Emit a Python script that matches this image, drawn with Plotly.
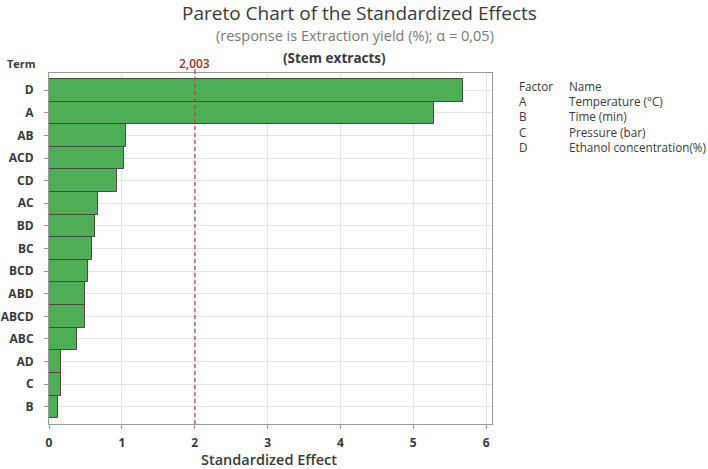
import plotly.graph_objects as go

terms = ["D", "A", "AB", "ACD", "CD", "AC", "BD", "BC", "BCD", "ABD", "ABCD", "ABC", "AD", "C", "B"]
effects = [5.68, 5.29, 1.06, 1.03, 0.93, 0.67, 0.63, 0.59, 0.53, 0.49, 0.50, 0.38, 0.17, 0.17, 0.12]
critical = 2.003
x_ticks = [0, 1, 2, 3, 4, 5, 6]
factors = ["A", "B", "C", "D"]
factor_names = ["Temperature (°C)", "Time (min)", "Pressure (bar)", "Ethanol concentration(%)"]

FONT = "Open Sans"
DARK = "#3a3a3a"
W, H = 708, 469
L, R, T, B = 49, 216, 73, 45
PW, PH = W - L - R, H - T - B


def px(xp):
    return (xp - L) / PW


def py(yp):
    return 1 - (yp - T) / PH


fig = go.Figure()
fig.add_trace(go.Bar(
    x=effects, y=terms, orientation="h",
    marker=dict(color="#4dae55", line=dict(color="#4a4a4a", width=1)),
    width=1.0, showlegend=False, hoverinfo="x+y",
))

n = len(terms)
pad = 0.26
fig.update_layout(
    width=W, height=H,
    margin=dict(l=L, r=R, t=T, b=B),
    paper_bgcolor="white", plot_bgcolor="white",
    font=dict(family=FONT, color=DARK),
    bargap=0,
    xaxis=dict(range=[0, 6.08], tickvals=x_ticks, showgrid=True, gridcolor="#e4e4e4",
               zeroline=False, showline=True, linecolor="#9a9a9a", mirror=True, automargin=False,
               ticks="outside", ticklen=4, tickcolor="#9a9a9a", ticklabelstandoff=4,
               tickfont=dict(size=12, color=DARK, family=FONT, weight="bold")),
    yaxis=dict(type="category", categoryorder="array", categoryarray=terms,
               range=[n - 0.5 + pad, -0.5 - pad], showgrid=True, gridcolor="#e4e4e4",
               zeroline=False, showline=True, linecolor="#9a9a9a", mirror=True, automargin=False,
               ticks="outside", ticklen=4, tickcolor="#9a9a9a", ticklabelstandoff=8,
               tickfont=dict(size=12, color=DARK, family=FONT, weight="bold")),
)

# reference line
fig.add_shape(type="line", xref="x", yref="paper", x0=critical, x1=critical, y0=0, y1=1,
              line=dict(color="#d0343a", width=1.2, dash="4px,3px"))
fig.add_shape(type="line", xref="x", yref="paper", x0=critical, x1=critical, y0=1, y1=py(69),
              line=dict(color="#d0343a", width=1.2))
fig.add_annotation(x=critical, y=py(63.5), xref="x", yref="paper", text="2,003", showarrow=False,
                   yanchor="middle", font=dict(size=12, color="#b5262b", family=FONT, weight=600))

# titles
fig.add_annotation(xref="paper", yref="paper", x=px(359), y=py(12.5),
                   text="Pareto Chart of the Standardized Effects", showarrow=False,
                   xanchor="center", yanchor="middle", font=dict(size=19, color=DARK, family=FONT))
fig.add_annotation(xref="paper", yref="paper", x=px(355), y=py(35.5),
                   text="(response is Extraction yield (%); α = 0,05)", showarrow=False,
                   xanchor="center", yanchor="middle", font=dict(size=14.5, color="#7a7a7a", family=FONT))
fig.add_annotation(xref="paper", yref="paper", x=px(334), y=py(58),
                   text="(Stem extracts)", showarrow=False,
                   xanchor="center", yanchor="middle", font=dict(size=13.5, color=DARK, family=FONT, weight="bold"))
fig.add_annotation(xref="paper", yref="paper", x=px(5), y=py(63),
                   text="Term", showarrow=False,
                   xanchor="left", yanchor="middle", font=dict(size=11, color=DARK, family=FONT, weight="bold"))
fig.add_annotation(xref="paper", yref="paper", x=px(269), y=py(459),
                   text="Standardized Effect", showarrow=False,
                   xanchor="center", yanchor="middle", font=dict(size=14.5, color=DARK, family=FONT, weight=600))

# factor table
col1 = "<br>".join(["Factor"] + factors)
col2 = "<br>".join(["Name"] + factor_names)
fig.add_annotation(xref="paper", yref="paper", x=px(517), y=py(76), text=col1, showarrow=False,
                   xanchor="left", yanchor="top", align="left", font=dict(size=11.7, color=DARK, family=FONT))
fig.add_annotation(xref="paper", yref="paper", x=px(567), y=py(76), text=col2, showarrow=False,
                   xanchor="left", yanchor="top", align="left", font=dict(size=11.7, color=DARK, family=FONT))

fig.write_html("out.html")
